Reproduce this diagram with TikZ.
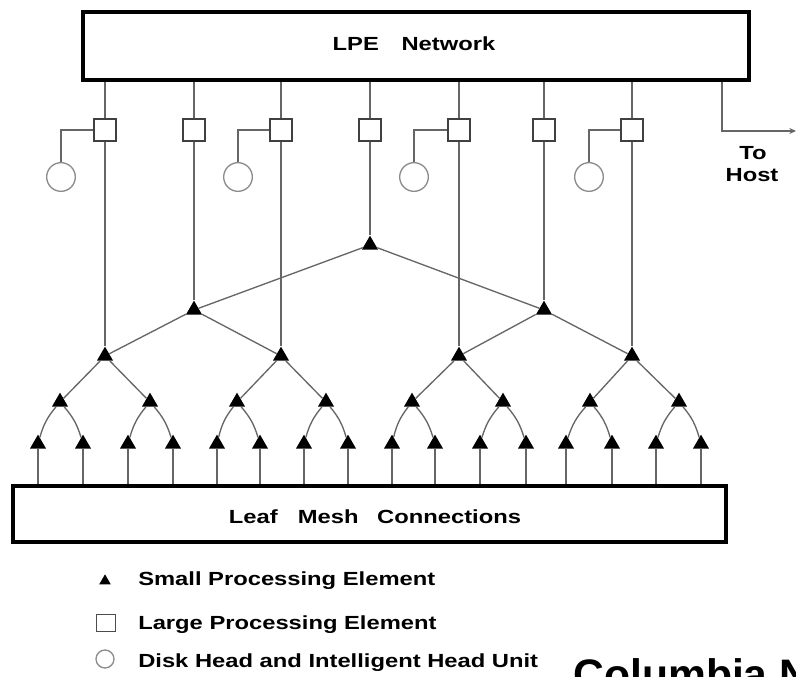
\documentclass[tikz,border=0pt]{standalone}
\usepackage{fontspec}
\setmainfont{Liberation Sans}
\newfontfamily\labfont{Liberation Sans}[FakeStretch=1.25]
\usetikzlibrary{shapes.geometric,arrows.meta}
\begin{document}
\begin{tikzpicture}[x=0.75pt,y=-0.75pt,
  wire/.style={draw=black!60,line width=1pt},
  bigbox/.style={draw=black,line width=3pt,fill=white,inner sep=0pt},
  lpe/.style={draw=black!75,line width=1.3pt,fill=white,minimum size=16pt,inner sep=0pt},
  disk/.style={circle,draw=black!45,line width=1pt,fill=white,minimum size=21.5pt,inner sep=0pt},
  spe/.style={regular polygon,regular polygon sides=3,fill=black,minimum size=14pt,inner sep=0pt},
  lab/.style={font=\fontsize{14.25}{17}\labfont\bfseries,inner sep=0pt},
]
\useasboundingbox (0,0) rectangle (796,677);

% big boxes
\node[bigbox,anchor=north west,minimum width=499.5pt,minimum height=51pt] (net) at (81,10) {};
\node[lab,anchor=base] (netlab) at (414,51) {LPE\hspace{17pt}Network};
\node[bigbox,anchor=north west,minimum width=534.75pt,minimum height=42pt] (leaf) at (11,484) {};
\node[lab,anchor=base] (leaflab) at (375,523) {Leaf\hspace{15pt}Mesh\hspace{14pt}Connections};

% large processing elements
\foreach \i/\x in {1/105,2/194,3/281,4/370,5/459,6/544,7/632}
  \node[lpe] (sq\i) at (\x,130) {};
% disks
\foreach \i/\x in {1/61,3/238,5/414,7/589}
  \node[disk] (dk\i) at (\x,177) {};

% tree of small processing elements
\node[spe] (r) at (370,245) {};
\node[spe] (a1) at (194,310) {};
\node[spe] (a2) at (544,310) {};
\foreach \i/\x in {1/105,2/281,3/459,4/632}
  \node[spe] (b\i) at (\x,356) {};
\foreach \i/\x in {1/60,2/150,3/237,4/326,5/412,6/503,7/590,8/679}
  \node[spe] (c\i) at (\x,402) {};
\foreach \i/\x in {1/38,2/83,3/128,4/173,5/217,6/260,7/304,8/348,9/392,10/435,11/480,12/526,13/566,14/612,15/656,16/701}
  \node[spe] (d\i) at (\x,444) {};

% network to large PEs
\foreach \i in {1,...,7}
  \draw[wire] (sq\i) -- (sq\i |- net.south);
% large PEs to disks
\foreach \i in {1,3,5,7}
  \draw[wire] (sq\i.west) -| (dk\i.north);
% large PEs down into the tree
\draw[wire] (sq1) -- (b1);
\draw[wire] (sq2) -- (a1);
\draw[wire] (sq3) -- (b2);
\draw[wire] (sq4) -- (r);
\draw[wire] (sq5) -- (b3);
\draw[wire] (sq6) -- (a2);
\draw[wire] (sq7) -- (b4);

% host
\coordinate (hturn) at (722,131);
\coordinate (hend) at (796,131);
\draw[wire,-{Stealth[length=5pt,width=4.5pt]}] (net.south -| hturn) -- (hturn) -- (hend);
\node[lab,anchor=base] (tolab) at (753,160) {To};
\node[lab,anchor=base] (hostlab) at (752,182) {Host};

% tree edges
\draw[wire] (r) -- (a1);
\draw[wire] (r) -- (a2);
\draw[wire] (a1) -- (b1);
\draw[wire] (a1) -- (b2);
\draw[wire] (a2) -- (b3);
\draw[wire] (a2) -- (b4);
\foreach \p/\l/\rr in {1/1/2,2/3/4,3/5/6,4/7/8}{
  \draw[wire] (b\p) -- (c\l);
  \draw[wire] (b\p) -- (c\rr);
}
\foreach \p/\l/\rr in {1/1/2,2/3/4,3/5/6,4/7/8,5/9/10,6/11/12,7/13/14,8/15/16}{
  \draw[wire] (c\p) to[bend right=12] (d\l);
  \draw[wire] (c\p) to[bend left=12] (d\rr);
}
% leaves to leaf mesh
\foreach \i in {1,...,16}
  \draw[wire] (d\i) -- (d\i |- leaf.north);

% legend
\node[spe,minimum size=10pt] (lg1) at (105,581) {};
\node[draw=black!70,line width=1pt,minimum width=14pt,minimum height=13pt,inner sep=0pt] (lg2) at (106,623) {};
\node[circle,draw=black!45,line width=1pt,minimum size=13.5pt,inner sep=0pt] (lg3) at (105,659) {};
\node[lab,anchor=base west] (lt1) at (138,585) {Small Processing Element};
\node[lab,anchor=base west] (lt2) at (138,629) {Large Processing Element};
\node[lab,anchor=base west] (lt3) at (138,667) {Disk Head and Intelligent Head Unit};

\node[font=\fontsize{32}{38}\selectfont\bfseries,anchor=base west,inner sep=0pt] (cap) at (573,689) {Columbia N};
\end{tikzpicture}
\end{document}
